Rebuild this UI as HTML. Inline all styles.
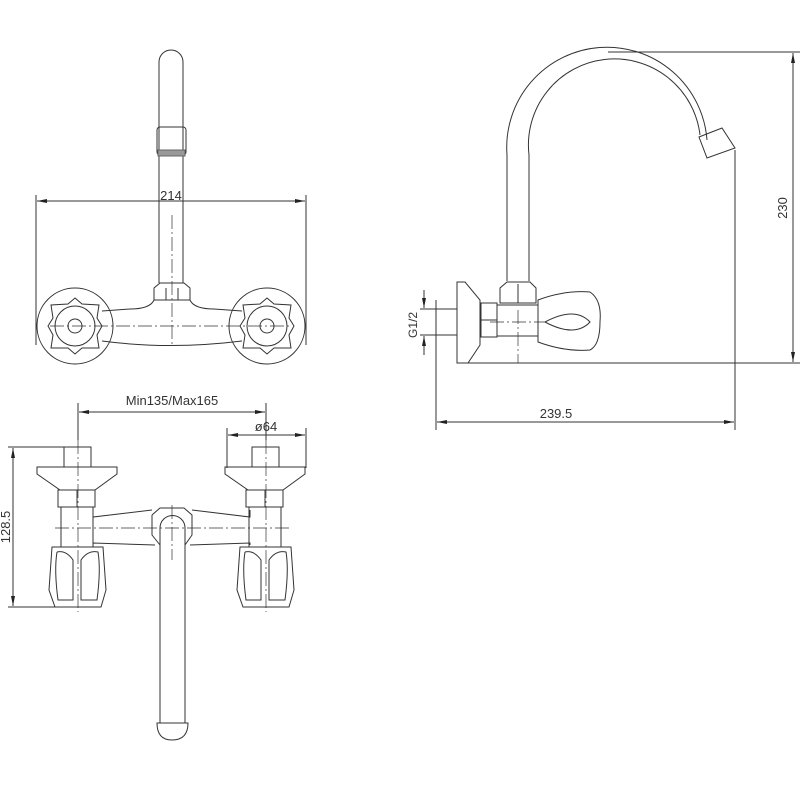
<!DOCTYPE html>
<html><head><style>body{margin:0;background:#fff}svg{display:block}</style></head><body>
<svg width="800" height="800" viewBox="0 0 800 800" xmlns="http://www.w3.org/2000/svg" font-family="Liberation Sans, sans-serif" fill="none" stroke="#333" stroke-width="1">
<defs>
<marker id="a" markerWidth="10" markerHeight="6" refX="10" refY="3" orient="auto-start-reverse"><path d="M0,1 L10,3 L0,5z" fill="#222" stroke="none"/></marker>
</defs>
<!-- VIEW 1 -->
<path d="M159,283 V62 A12,12 0 0 1 183,62 V283"/>
<rect x="157" y="127" width="29" height="28" rx="3"/>
<rect x="158" y="150" width="27" height="6" fill="#999" stroke="#666"/>
<line x1="36" y1="195" x2="36" y2="345"/><line x1="306" y1="195" x2="306" y2="345"/>
<line x1="37" y1="201" x2="305" y2="201" marker-start="url(#a)" marker-end="url(#a)"/>
<text x="171" y="200" font-size="13" fill="#333" stroke="none" text-anchor="middle">214</text>
<path d="M154,288 L160,283 H184 L190,288 V300 H154 Z"/>
<line x1="166" y1="288" x2="166" y2="300"/><line x1="178" y1="288" x2="178" y2="300"/>
<path d="M154,300 Q150,309 130,309 L102,311 M190,300 Q194,309 214,309 L242,311 M102,341 Q170,350 242,341"/>
<circle cx="75" cy="326" r="38"/><circle cx="267" cy="326" r="38"/>
<path d="M75,298 L82,304 L99,305 L97,318 L102,326 L97,335 L99,348 L82,348 L75,354 L68,348 L51,348 L53,335 L48,326 L53,318 L51,305 L68,304 Z"/>
<path d="M267,298 L274,304 L291,305 L289,318 L294,326 L289,335 L291,348 L274,348 L267,354 L260,348 L243,348 L245,335 L240,326 L245,318 L243,305 L260,304 Z"/>
<circle cx="75" cy="326" r="7"/><circle cx="267" cy="326" r="7"/>
<circle cx="75" cy="326" r="20"/><circle cx="267" cy="326" r="20"/>
<path d="M50,326 H292 M172,215 V345" stroke-dasharray="14,3,2,3" stroke-width="0.7"/>
<!-- VIEW 2 -->
<line x1="79" y1="412" x2="265" y2="412" marker-start="url(#a)" marker-end="url(#a)"/>
<text x="172" y="405" font-size="13" fill="#333" stroke="none" text-anchor="middle">Min135/Max165</text>
<line x1="78" y1="403" x2="78" y2="440"/><line x1="266" y1="403" x2="266" y2="440"/>
<line x1="228" y1="435" x2="305" y2="435" marker-start="url(#a)" marker-end="url(#a)"/>
<text x="266" y="431" font-size="13" fill="#333" stroke="none" text-anchor="middle">ø64</text>
<line x1="227" y1="428" x2="227" y2="468"/><line x1="306" y1="428" x2="306" y2="468"/>
<line x1="13" y1="448" x2="13" y2="606" marker-start="url(#a)" marker-end="url(#a)"/>
<line x1="8" y1="447" x2="64" y2="447"/><line x1="8" y1="607" x2="60" y2="607"/>
<text transform="translate(12,527) rotate(-90)" font-size="13" fill="#333" stroke="none" text-anchor="middle" dy="-2">128.5</text>
<g id="v">
<rect x="64" y="447" width="27" height="20"/>
<path d="M37,467 H117 V474 L95,490 H60 L37,474 Z"/>
<rect x="58" y="490" width="37" height="17"/><line x1="77" y1="490" x2="77" y2="507"/>
<path d="M61,507 V547 M93,507 V547"/>
<path d="M52,547 H103 L106,590 L101,607 H55 L49,590 Z"/>
<path d="M57,552 Q66,550 73,560 L73,600 L58,600 Q54,570 57,552 M81,560 Q88,550 98,552 Q101,570 97,600 L81,600 Z"/>
<line x1="78" y1="440" x2="78" y2="612" stroke-dasharray="14,3,2,3" stroke-width="0.7"/>
</g>
<use href="#v" transform="translate(188,0)"/>
<path d="M93,510 V517 L152,510 M93,545 V543 L155,545 M250,510 V517 L192,510 M250,545 V543 L190,545"/>
<path d="M152,515 L160,508 H184 L192,515 V535 L185,545 M152,515 V535 L160,545"/>
<path d="M160,723 V528 A12.5,12.5 0 0 1 185,528 V723"/>
<path d="M157,723 Q157,740 172,740 Q188,740 188,723 Z"/>
<path d="M55,528 H290" stroke-dasharray="14,3,2,3" stroke-width="0.7"/>
<line x1="172" y1="505" x2="172" y2="560" stroke-dasharray="14,3,2,3" stroke-width="0.7"/>
<!-- VIEW 3 -->
<path d="M507,281 V155 A100,100 0 0 1 707,140 M529,281 V155 A78,78 0 0 1 700,135"/>
<path d="M699,137 L722,128 L735,148 L707,158 Z"/>
<line x1="608" y1="52" x2="800" y2="52"/><line x1="467" y1="363" x2="800" y2="363"/>
<line x1="793" y1="53" x2="793" y2="362" marker-start="url(#a)" marker-end="url(#a)"/>
<text transform="translate(787,208) rotate(-90)" font-size="13" fill="#333" stroke="none" text-anchor="middle">230</text>
<path d="M457,282 H465 L480,300 V345 L468,363 H457 Z"/>
<rect x="436" y="309" width="21" height="26"/>
<rect x="481" y="303" width="16" height="34"/><line x1="481" y1="320" x2="497" y2="320"/>
<rect x="497" y="305" width="41" height="31"/>
<path d="M500,303 V288 L507,282 H530 L536,288 V303 Z"/><line x1="518" y1="284" x2="518" y2="303"/>
<path d="M538,300 Q565,290 590,292 Q602,300 600,322 Q600,345 590,350 Q565,352 538,342 Z"/>
<path d="M545,322 Q575,306 590,322 Q575,338 545,322"/>
<path d="M518,310 V363 M490,322 H545" stroke-dasharray="14,3,2,3" stroke-width="0.7"/>
<line x1="436" y1="300" x2="436" y2="430"/><line x1="735" y1="150" x2="735" y2="430"/>
<line x1="437" y1="422" x2="734" y2="422" marker-start="url(#a)" marker-end="url(#a)"/>
<text x="556" y="418" font-size="13" fill="#333" stroke="none" text-anchor="middle">239.5</text>
<line x1="424" y1="290" x2="424" y2="308" marker-end="url(#a)"/>
<line x1="424" y1="355" x2="424" y2="336" marker-end="url(#a)"/>
<line x1="420" y1="309" x2="436" y2="309"/><line x1="420" y1="335" x2="436" y2="335"/>
<text transform="translate(417,325) rotate(-90)" font-size="12" fill="#333" stroke="none" text-anchor="middle">G1/2</text>
</svg>
</body></html>
